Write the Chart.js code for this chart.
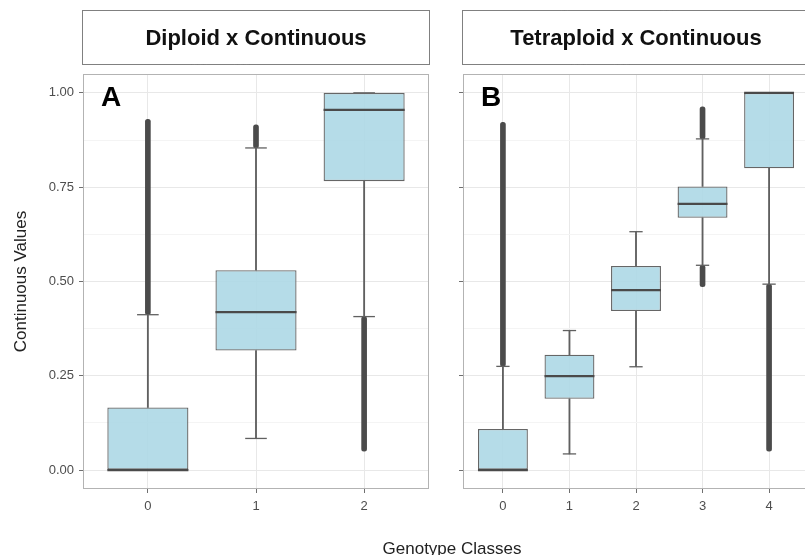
<!DOCTYPE html>
<html>
<head>
<meta charset="utf-8">
<script src="https://cdn.jsdelivr.net/npm/chart.js@4.4.0/dist/chart.umd.min.js"></script>
<style>
html,body{margin:0;padding:0;background:#fff;width:805px;height:555px;overflow:hidden;position:relative;font-family:"Liberation Sans",Arial,sans-serif;}
#ca{position:absolute;left:0;top:0;}
#cb{position:absolute;left:440px;top:0;}
#xt{position:absolute;left:0;top:540px;width:904px;text-align:center;font-size:17px;line-height:17px;color:#222;white-space:nowrap;}
</style>
</head>
<body>
<canvas id="ca" width="440" height="555" style="width:440px;height:555px"></canvas>
<canvas id="cb" width="375" height="555" style="width:375px;height:555px"></canvas>
<div id="xt">Genotype Classes</div>
<script>
// ---------- data ----------
const yTickValues = [0, 0.125, 0.25, 0.375, 0.5, 0.625, 0.75, 0.875, 1.0];

// Panel A : Diploid x Continuous
const aTitle = "Diploid x Continuous";
const aCategories = [0, 1, 2];
const aQ1 = [0.000, 0.317, 0.766];
const aMedian = [0.000, 0.419, 0.955];
const aQ3 = [0.166, 0.530, 1.000];
const aWhiskerLow = [0.000, 0.084, 0.407];
const aWhiskerHigh = [0.412, 0.854, 1.000];
const aOutliersUpper = [[0.412, 0.930], [0.854, 0.915], null];
const aOutliersLower = [null, null, [0.050, 0.407]];

// Panel B : Tetraploid x Continuous
const bTitle = "Tetraploid x Continuous";
const bCategories = [0, 1, 2, 3, 4];
const bQ1 = [0.000, 0.189, 0.422, 0.669, 0.800];
const bMedian = [0.000, 0.249, 0.477, 0.706, 1.000];
const bQ3 = [0.109, 0.306, 0.541, 0.752, 1.000];
const bWhiskerLow = [0.000, 0.043, 0.274, 0.543, 0.493];
const bWhiskerHigh = [0.275, 0.370, 0.632, 0.878, 1.000];
const bOutliersUpper = [[0.275, 0.922], null, null, [0.878, 0.963], null];
const bOutliersLower = [null, null, null, [0.486, 0.543], [0.050, 0.493]];

// ---------- styling ----------
Chart.defaults.font.family = "'Liberation Sans', Arial, sans-serif";
const FONT = "'Liberation Sans', Arial, sans-serif";
const BOX_FILL = 'rgba(173,216,230,0.9)';
const BOX_LINE = '#666666';
const WHISKER = '#606060';
const OUTLIER = '#4b4b4b';
const MEDIAN = '#4a4a4a';

function unitPx(chart) {
  const s = chart.scales.x;
  return Math.abs(s.getPixelForValue(1) - s.getPixelForValue(0));
}

function buildDatasets(cats, q1, med, q3, wl, wh, outU, outL) {
  const pairs = (lo, hi) => cats.map((c, i) => ({x: c, y: [lo[i], hi[i]]})).filter(d => d.y[0] !== d.y[1]);
  const outs = cats.map((c, i) => [outU[i], outL[i]])
    .flatMap((p, i) => p.filter(r => r).map(r => ({x: cats[i], y: r})));
  const caps = cats.flatMap((c, i) => [{x: c, y: wl[i]}, {x: c, y: wh[i]}]);
  return [
    { type: 'scatter', label: 'median', order: 0,
      data: cats.map((c, i) => ({x: c, y: med[i]})),
      pointStyle: 'line', pointBorderColor: MEDIAN, pointBorderWidth: 2.2,
      pointRadius: (ctx) => unitPx(ctx.chart) * 0.375, pointHoverRadius: (ctx) => unitPx(ctx.chart) * 0.375 },
    { type: 'bar', label: 'box', order: 1,
      data: pairs(q1, q3), backgroundColor: BOX_FILL, borderColor: BOX_LINE, borderWidth: 1.3,
      borderSkipped: false, grouped: false, barPercentage: 0.75, categoryPercentage: 1 },
    { type: 'scatter', label: 'caps', order: 2, data: caps,
      pointStyle: 'line', pointBorderColor: WHISKER, pointBorderWidth: 1.3,
      pointRadius: (ctx) => unitPx(ctx.chart) * 0.1, pointHoverRadius: (ctx) => unitPx(ctx.chart) * 0.1 },
    { type: 'bar', label: 'whiskerLow', order: 3, data: pairs(wl, q1),
      backgroundColor: WHISKER, borderWidth: 0, grouped: false, barThickness: 1.2 },
    { type: 'bar', label: 'whiskerHigh', order: 3, data: pairs(q3, wh),
      backgroundColor: WHISKER, borderWidth: 0, grouped: false, barThickness: 1.2 },
    { type: 'bar', label: 'outliers', order: 4, data: outs,
      backgroundColor: OUTLIER, borderWidth: 0, grouped: false, barThickness: 5,
      borderRadius: 2.5, borderSkipped: false }
  ];
}

const panelPlugin = {
  id: 'panel',
  afterDraw(chart, args, opts) {
    const {ctx, chartArea: a} = chart;
    ctx.save();
    // panel border
    ctx.strokeStyle = '#b3b3b3';
    ctx.lineWidth = 1;
    ctx.strokeRect(Math.round(a.left) + 0.5, Math.round(a.top) + 0.5,
                   Math.round(a.right - a.left) - 1, Math.round(a.bottom - a.top) - 1);
    // strip (dotted box + title)
    ctx.setLineDash([1, 1]);
    ctx.strokeStyle = '#000';
    ctx.strokeRect(Math.round(a.left) - 0.5, 10.5, Math.round(a.right - a.left) + 1, 54);
    ctx.setLineDash([]);
    ctx.fillStyle = '#111';
    ctx.font = "bold 22px " + FONT;
    ctx.textAlign = 'center';
    ctx.textBaseline = 'alphabetic';
    ctx.fillText(opts.title, (a.left + a.right) / 2, 45);
    // panel letter
    ctx.font = "bold 28px " + FONT;
    ctx.textAlign = 'left';
    ctx.fillStyle = '#000';
    ctx.fillText(opts.letter, a.left + 18, 106);
    ctx.restore();
  }
};

function makeChart(id, cats, datasets, title, letter, yAxisWidth, showYLabels, padRight) {
  const xMax = cats[cats.length - 1] + 0.6;
  return new Chart(document.getElementById(id), {
    type: 'bar',
    data: { datasets },
    plugins: [panelPlugin],
    options: {
      responsive: false, animation: false,
      layout: { padding: { top: 74, left: 0, right: padRight, bottom: 0 } },
      plugins: { legend: { display: false }, tooltip: { enabled: false },
                 panel: { title, letter } },
      scales: {
        x: {
          type: 'linear', min: -0.6, max: xMax, offset: false,
          afterBuildTicks: (s) => { s.ticks = cats.map(v => ({value: v})); },
          afterFit: (s) => { s.height = 66; },
          grid: { offset: false, color: '#e8e8e8', lineWidth: 1, tickColor: '#6f6f6f', tickLength: 4, drawTicks: true },
          border: { display: false },
          ticks: { autoSkip: false, maxRotation: 0, padding: 6, color: '#4d4d4d',
                   font: { size: 13 }, callback: (v) => String(v) }
        },
        y: {
          type: 'linear', min: -0.05, max: 1.05,
          afterBuildTicks: (s) => { s.ticks = yTickValues.map(v => ({value: v})); },
          afterFit: (s) => { s.width = yAxisWidth; },
          grid: {
            color: (c) => (c.tick && c.tick.value % 0.25 === 0) ? '#e8e8e8' : '#f4f4f4',
            tickColor: (c) => (c.tick && c.tick.value % 0.25 === 0) ? '#6f6f6f' : 'rgba(0,0,0,0)',
            tickLength: 4, lineWidth: 1
          },
          border: { display: false },
          title: { display: showYLabels, text: 'Continuous Values', color: '#222',
                   font: { size: 17 }, padding: { top: 11, bottom: 0 } },
          ticks: { display: showYLabels, autoSkip: false, padding: 5, color: '#4d4d4d',
                   font: { size: 13 },
                   callback: (v) => (v % 0.25 === 0) ? v.toFixed(2) : '' }
        }
      }
    }
  });
}

makeChart('ca', aCategories,
  buildDatasets(aCategories, aQ1, aMedian, aQ3, aWhiskerLow, aWhiskerHigh, aOutliersUpper, aOutliersLower),
  aTitle, 'A', 83, true, 11);
makeChart('cb', bCategories,
  buildDatasets(bCategories, bQ1, bMedian, bQ3, bWhiskerLow, bWhiskerHigh, bOutliersUpper, bOutliersLower),
  bTitle, 'B', 23, false, 6);
</script>
</body>
</html>
